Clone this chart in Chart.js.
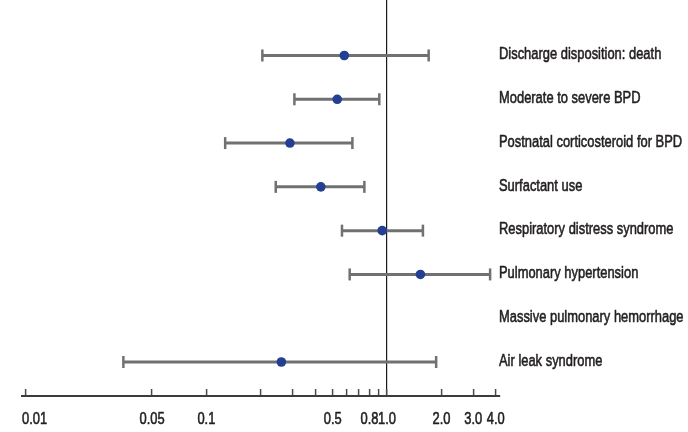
<!DOCTYPE html>
<html>
<head>
<meta charset="utf-8">
<script src="https://cdn.jsdelivr.net/npm/chart.js@4.4.1/dist/chart.umd.min.js"></script>
<style>
  html, body { margin: 0; padding: 0; background: #fff; }
  #wrap { width: 688px; height: 432px; }
</style>
</head>
<body>
<div id="wrap"><canvas id="myChart"></canvas></div>
<script>
const outcomes = [
  "Discharge disposition: death",
  "Moderate to severe BPD",
  "Postnatal corticosteroid for BPD",
  "Surfactant use",
  "Respiratory distress syndrome",
  "Pulmonary hypertension",
  "Massive pulmonary hemorrhage",
  "Air leak syndrome",
];

// odds ratio and 95% CI, null where no estimate
const estimate = [0.58, 0.53, 0.29, 0.43, 0.94, 1.53, null, 0.26];
const lower = [0.204, 0.307, 0.127, 0.242, 0.563, 0.621, null, 0.0347];
const upper = [1.70, 0.906, 0.643, 0.749, 1.58, 3.72, null, 1.87];

const tickValues = [0.01, 0.05, 0.1, 0.2, 0.3, 0.4, 0.5, 0.6, 0.7, 0.8, 0.9, 1, 2, 3, 4];
const tickLabels = { 0.01: "0.01", 0.05: "0.05", 0.1: "0.1", 0.5: "0.5", 0.8: "0.8", 1: "1.0", 2: "2.0", 3: "3.0", 4: "4.0" };

const FONT = '17px "Liberation Sans", Arial, sans-serif';
const SQUEEZE = 0.76; // condensed look of the original type
const textColor = "#231f20";
const grey = "#707173";
const blue = "#233f92";

const datasets = [];
datasets.push({
  label: "Estimate",
  data: outcomes.map((o, i) => estimate[i] == null ? null : { x: estimate[i], y: i + 1 }).filter(Boolean),
  pointRadius: 4.8,
  pointHoverRadius: 4.8,
  pointBackgroundColor: blue,
  pointBorderWidth: 0,
  showLine: false,
});
outcomes.forEach((o, i) => {
  if (lower[i] == null) return;
  datasets.push({
    label: o,
    data: [{ x: lower[i], y: i + 1 }, { x: upper[i], y: i + 1 }],
    showLine: true,
    borderColor: grey,
    borderWidth: 3,
    pointStyle: "line",
    pointRotation: 90,
    pointRadius: 6,
    pointHoverRadius: 6,
    pointBorderColor: grey,
    pointBorderWidth: 2.5,
  });
});

function squeezedText(ctx, text, x, y, align) {
  ctx.save();
  ctx.translate(x, y);
  ctx.scale(SQUEEZE, 1);
  ctx.textAlign = align;
  ctx.strokeText(text, 0, 0); // a touch heavier, like the original type
  ctx.fillText(text, 0, 0);
  ctx.restore();
}

// draws the outcome names and the axis numbers in a narrow type
const labelPlugin = {
  id: "labels",
  afterDraw(chart) {
    const ctx = chart.ctx;
    const xs = chart.scales.x;
    const ys = chart.scales.y;
    ctx.save();
    ctx.font = FONT;
    ctx.fillStyle = textColor;
    ctx.strokeStyle = textColor;
    ctx.lineWidth = 0.6;
    ctx.lineJoin = "round";
    ctx.textBaseline = "middle";
    outcomes.forEach((o, i) => {
      squeezedText(ctx, o, ys.left - 1, ys.getPixelForValue(i + 1) - 1, "left");
    });
    ctx.textBaseline = "alphabetic";
    tickValues.forEach((v) => {
      const t = tickLabels[v];
      if (!t) return;
      const w = ctx.measureText(t).width * SQUEEZE;
      let x = xs.getPixelForValue(v) - w / 2;
      if (x < chart.chartArea.left) x = chart.chartArea.left;
      squeezedText(ctx, t, x, xs.top + 28, "left");
    });
    ctx.restore();
  },
};

const config = {
  type: "scatter",
  data: { datasets: datasets },
  plugins: [labelPlugin],
  options: {
    responsive: true,
    maintainAspectRatio: false,
    animation: false,
    layout: { autoPadding: false, padding: { left: 22, top: 0, right: 0, bottom: 0 } },
    plugins: {
      legend: { display: false },
      tooltip: { enabled: false },
    },
    scales: {
      x: {
        type: "logarithmic",
        min: 0.00953,
        max: 4.22,
        afterBuildTicks: (axis) => {
          axis.ticks = tickValues.map((v) => ({ value: v }));
        },
        afterFit: (axis) => {
          axis.height = 36;
          axis.paddingLeft = 0;
          axis.paddingRight = 0;
        },
        border: { display: true, color: "#3c3c3c", width: 2 },
        grid: {
          drawOnChartArea: true,
          color: (ctx) => (ctx.tick && ctx.tick.value === 1 ? "#1a1a1a" : "rgba(0,0,0,0)"),
          lineWidth: 1.2,
          tickColor: "#4a4a4a",
          tickLength: -7,
          tickWidth: 1.5,
        },
        ticks: { display: false, autoSkip: false },
      },
      y: {
        type: "linear",
        position: "right",
        reverse: true,
        min: -0.267,
        max: 8.776,
        afterBuildTicks: (axis) => {
          axis.ticks = outcomes.map((o, i) => ({ value: i + 1 }));
        },
        afterFit: (axis) => {
          axis.width = 188;
          axis.paddingTop = 0;
          axis.paddingBottom = 0;
        },
        border: { display: false },
        grid: { display: false, drawTicks: false },
        ticks: { display: false },
      },
    },
  },
};

const myChart = new Chart(document.getElementById("myChart"), config);
</script>
</body>
</html>
